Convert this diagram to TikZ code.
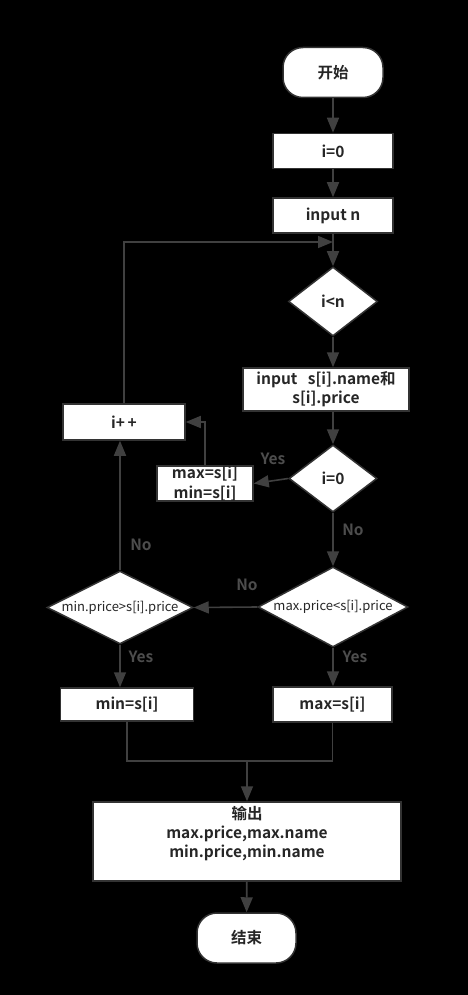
\documentclass[tikz,border=0pt]{standalone}
\usepackage{fontspec}
\setmainfont{Noto Sans CJK SC}[BoldFont={* Bold}]
\usetikzlibrary{shapes.geometric,arrows.meta,calc}
\definecolor{ln}{HTML}{404040}
\definecolor{bd}{HTML}{333333}
\definecolor{tx}{HTML}{262626}
\definecolor{lb}{HTML}{4d4d4d}
\tikzset{
  base/.style={draw=bd,line width=1.5pt,fill=white,text=tx,font=\fontsize{15.5}{19}\selectfont\bfseries,inner sep=0pt,align=center},
  box/.style={base,rectangle},
  term/.style={base,rectangle,rounded corners=20pt},
  dia/.style={base,diamond,aspect=2},
  small/.style={font=\fontsize{13}{14}\selectfont},
  arr/.style={draw=ln,line width=1.6pt,-{Triangle[length=15pt,width=12pt]}},
  ln/.style={draw=ln,line width=1.6pt},
  lab/.style={text=lb,font=\fontsize{15.5}{17}\selectfont\bfseries,inner sep=0pt},
}
\begin{document}
\begin{tikzpicture}[x=1pt,y=-1pt]
\fill[black] (0,0) rectangle (468,995);
\useasboundingbox (0,0) rectangle (468,995);
\node[term,minimum width=100,minimum height=50] (start) at (333,72.5) {开始};
\node[box,minimum width=120,minimum height=35] (i0) at (333,151) {i=0};
\node[box,minimum width=120,minimum height=35] (inn) at (333,215.5) {input n};
\node[dia,minimum width=89,minimum height=69] (ilt) at (333,301.5) {i<n};
\node[box,minimum width=166,minimum height=43] (ins) at (326,389.5) {input\ \ \ s[i].name和\\s[i].price};
\node[dia,minimum width=88,minimum height=67] (iz) at (333,478.5) {i=0};
\node[box,minimum width=96,minimum height=35,font=\fontsize{15.5}{20}\selectfont\bfseries] (mm) at (205,483.5) {max=s[i]\\min=s[i]};
\node[box,minimum width=122,minimum height=36] (ip) at (124,422) {i+\,+};
\node[dia,small,minimum width=150,minimum height=80] (maxd) at (333,607) {max.price<s[i].price};
\node[dia,small,minimum width=146,minimum height=73] (mind) at (120,607.5) {min.price>s[i].price};
\node[box,minimum width=133,minimum height=33] (minb) at (127,704.5) {min=s[i]};
\node[box,minimum width=119,minimum height=35] (maxb) at (332.5,704.5) {max=s[i]};
\node[box,minimum width=308,minimum height=79] (out) at (247,841.5) {};
\node[align=center,text=tx,font=\fontsize{15.5}{19}\selectfont\bfseries,inner sep=0pt] (outt) at (247,834) {输出\\max.price,max.name\\min.price,min.name};
\node[term,minimum width=99,minimum height=50] (end) at (246.5,938) {结束};
\coordinate (loopj) at (333,242);
\coordinate (join) at (247,761);

\draw[arr] (start) -- (i0);
\draw[arr] (i0) -- (inn);
\draw[arr] (inn) -- (ilt);
\draw[arr] (ip.north) |- (loopj);
\draw[arr] (ilt.south) -- (ilt.south |- ins.north);
\draw[arr] (iz.north |- ins.south) -- (iz.north);
\draw[arr] (iz.west) -- (mm.east);
\draw[arr] (mm.north) |- (ip.east);
\draw[arr] (iz.south) -- (maxd.north);
\draw[arr] (maxd.west) -- (mind.east);
\draw[arr] (mind.north) -- (mind.north |- ip.south);
\draw[arr] (mind.south) -- (mind.south |- minb.north);
\draw[arr] (maxd.south) -- (maxd.south |- maxb.north);
\draw[ln] (minb.south) |- (join);
\draw[ln] (maxb.south) |- (join);
\draw[arr] (join) -- (out.north);
\draw[arr] (out) -- (end);

\node[lab] (y1) at (273,459) {Yes};
\node[lab] (n1) at (353,530) {No};
\node[lab] (n2) at (247,585) {No};
\node[lab] (n3) at (141,545) {No};
\node[lab] (y2) at (141,657) {Yes};
\node[lab] (y3) at (355,657) {Yes};
\end{tikzpicture}
\end{document}
